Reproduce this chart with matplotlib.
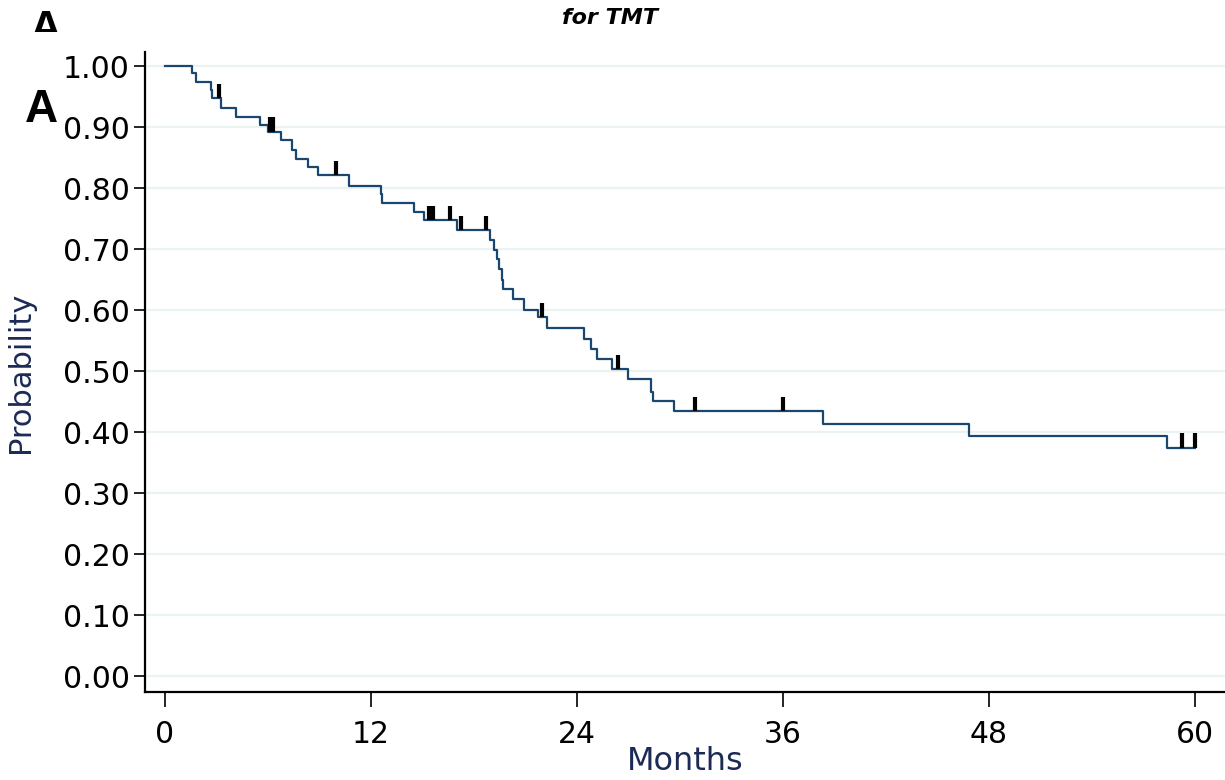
import numpy as np
import matplotlib.pyplot as plt
from matplotlib.patches import Rectangle

# Kaplan-Meier estimate: months at which events happen and survival after each one
event_months = [1.55, 1.79, 2.66, 2.76, 3.24, 4.12, 5.53, 6.02, 6.74, 7.38, 7.61,
                8.31, 8.93, 10.74, 12.56, 12.66, 14.5, 15.09, 17.03, 18.95, 19.18,
                19.32, 19.47, 19.61, 19.71, 20.3, 20.91, 21.75, 22.24, 24.41, 24.8,
                25.15, 26.02, 26.99, 28.29, 28.4, 29.65, 38.35, 46.85, 58.35]
surv_prob = [0.988, 0.974, 0.961, 0.947, 0.931, 0.917, 0.904, 0.892, 0.878, 0.863,
             0.848, 0.834, 0.821, 0.804, 0.791, 0.775, 0.760, 0.747, 0.731, 0.715,
             0.698, 0.683, 0.667, 0.650, 0.634, 0.618, 0.600, 0.588, 0.571, 0.553,
             0.536, 0.520, 0.503, 0.487, 0.466, 0.451, 0.434, 0.414, 0.394, 0.374]
censor_months = [3.16, 6.1, 6.3, 9.96, 15.4, 15.63, 16.6, 17.22, 18.68, 21.94,
                 26.41, 30.87, 35.98, 59.25, 60.0]
last_month = 60

y_ticks = [0.0, 0.1, 0.2, 0.3, 0.4, 0.5, 0.6, 0.7, 0.8, 0.9, 1.0]
x_ticks = [0, 12, 24, 36, 48, 60]

navy = '#1a476f'
title_navy = '#1c2b55'

fig = plt.figure(figsize=(12.25, 7.8), dpi=100)
ax = fig.add_axes([0.1184, 0.1128, 0.8816, 0.8205])

times = np.array([0] + event_months + [last_month])
levels = np.array([1.0] + surv_prob + [surv_prob[-1]])
ax.step(times, levels, where='post', color=navy, lw=1.6, zorder=3)

# censoring ticks sit on top of the curve
idx = np.searchsorted(times, censor_months, side='right') - 1
c_lv = levels[idx]
ax.vlines(censor_months, c_lv, c_lv + 0.024, color='black', lw=3.0, zorder=4)

ax.set_xlim(-1.165, 61.75)
ax.set_ylim(-0.026, 1.023)
ax.set_yticks(y_ticks)
ax.set_yticklabels([f'{v:.2f}' for v in y_ticks])
ax.set_xticks(x_ticks)
ax.grid(axis='y', color='#eaf2f3', lw=1.6, zorder=0)
ax.set_axisbelow(True)

for s in ['top', 'right']:
    ax.spines[s].set_visible(False)
for s in ['left', 'bottom']:
    ax.spines[s].set_linewidth(1.6)
ax.tick_params(axis='both', labelsize=21.5, width=1.2, colors='black')
ax.tick_params(axis='y', length=8, pad=3)
ax.tick_params(axis='x', length=11, pad=9)

ax.set_ylabel('Probability', fontsize=22, color=title_navy, labelpad=20)
ax.set_xlabel('Months', fontsize=23, color=title_navy, labelpad=-2)

fig.text(0.498, 0.977, 'for TMT', ha='center', va='center', fontsize=16,
         fontweight='bold', fontstyle='italic')

# panel letters; the upper one is partly hidden behind the panel below it
fig.text(0.0204, 0.8436, 'A', fontsize=33, fontweight='bold', ha='left',
         va='baseline', family='Liberation Sans')
fig.text(0.0245, 0.946, 'A', fontsize=32, fontweight='bold', ha='left',
         va='baseline', family='Liberation Sans', zorder=1)
fig.patches.append(Rectangle((0.015, 0.930), 0.06, 0.0285, transform=fig.transFigure,
                             facecolor='white', edgecolor='none', zorder=2))

fig.savefig('out.png', dpi=100)
